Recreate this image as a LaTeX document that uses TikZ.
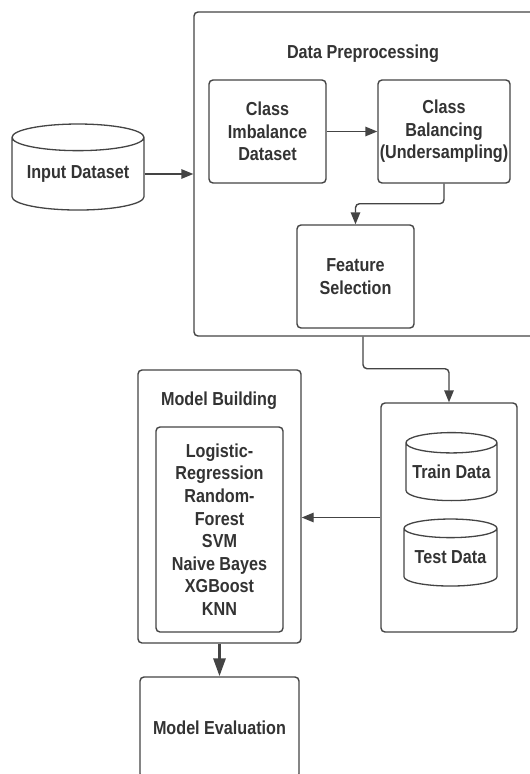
\documentclass[tikz,border=0pt]{standalone}
\usepackage{fontspec}
\newfontfamily\diagfont{Liberation Sans}[FakeStretch=0.86]
\usetikzlibrary{arrows.meta,positioning,shapes.geometric}
\definecolor{lineGray}{HTML}{444444}
\definecolor{textGray}{HTML}{333333}
\tikzset{
  grpBox/.style={draw=lineGray, line width=1.4pt, rounded corners=4pt, inner sep=0pt},
  stepBox/.style={draw=lineGray, line width=1.4pt, rounded corners=4pt,
    align=center, inner sep=0pt, text=textGray},
  dbCyl/.style={cylinder, shape border rotate=90, aspect=0.26, draw=lineGray,
    line width=1.3pt, align=center, inner sep=0pt, text=textGray},
  grpTitle/.style={text=textGray, inner sep=0pt},
  %% connectors
  flow/.style={-{Triangle[length=12pt,width=9.5pt]}, line width=1.4pt, draw=lineGray},
  bigFlow/.style={-{Triangle[length=18pt,width=12pt]}, line width=3pt, draw=lineGray},
}

\begin{document}
\begin{tikzpicture}[x=1pt, y=-1pt,
  font=\diagfont\bfseries\fontsize{18.8}{22.6}\selectfont]
\fill[white] (0,0) rectangle (530,774);
\path[use as bounding box] (0,0) rectangle (530,774);
\clip (0,0) rectangle (530,774);

%% preprocessing group
\node[grpBox, minimum width=351, minimum height=324] (dp) at (369.5,174) {};
\node[grpTitle] (dpTitle) at (363,54) {Data Preprocessing};
\node[stepBox, minimum width=117, minimum height=103] (imbal) at (267.5,131.5) {Class\\Imbalance\\Dataset};
\node[stepBox, minimum width=132, minimum height=103] (balance) at (444,131.5) {Class\\Balancing\\(Undersampling)};
\node[stepBox, minimum width=117, minimum height=103] (featSel) at (355.5,276.5) {Feature\\Selection};

%% input
\node[dbCyl, minimum width=132, minimum height=86] (input) at (78,174) {Input Dataset};

%% split data
\node[grpBox, minimum width=136, minimum height=229] (split) at (449,517.5) {};
\node[dbCyl, minimum width=91, minimum height=68] (train) at (451.5,472) {Train Data};
\node[dbCyl, minimum width=93, minimum height=67] (test) at (450.5,557.5) {Test Data};

%% models
\node[grpBox, minimum width=163, minimum height=273] (build) at (219.5,506.5) {};
\node[grpTitle] (buildTitle) at (219,401) {Model Building};
\node[stepBox, minimum width=127, minimum height=205] (algos) at (219.5,529.5)
  {Logistic-\\Regression\\Random-\\Forest\\SVM\\Naive Bayes\\XGBoost\\KNN};
\node[stepBox, minimum width=159, minimum height=101] (evalm) at (219.5,727.5) {Model Evaluation};

%% arrows
\draw[flow] (input.east) -- (input.east -| dp.west);
\draw[flow] (imbal.east) -- (balance.west);
\draw[flow, rounded corners=4pt] (balance.south) -- ++(0,20) -| (featSel.north);
\draw[flow, rounded corners=4pt] (dpTitle |- dp.south) -- ++(0,32) -| (split.north);
\draw[flow] (split.west) -- (split.west -| build.east);
\draw[bigFlow] (build.south) -- (evalm.north);
\end{tikzpicture}
\end{document}
